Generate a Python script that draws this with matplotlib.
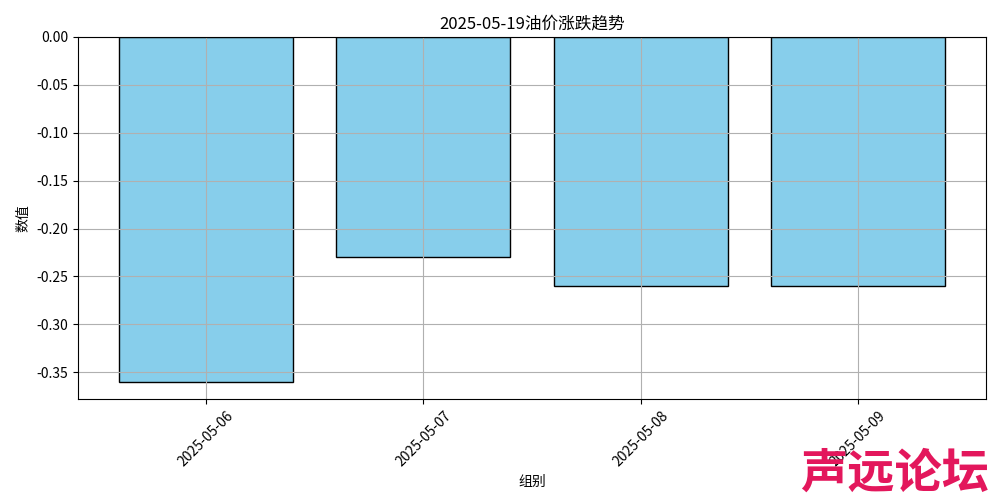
import matplotlib
matplotlib.use("Agg")
import matplotlib.pyplot as plt

plt.rcParams['font.family'] = ['Noto Sans CJK SC', 'DejaVu Sans']
plt.rcParams['axes.unicode_minus'] = False

categories = ["2025-05-06", "2025-05-07", "2025-05-08", "2025-05-09"]
values = [-0.36, -0.23, -0.26, -0.26]
title = "2025-05-19油价涨跌趋势"
xlabel = "组别"
ylabel = "数值"

fig, ax = plt.subplots(figsize=(10, 5), dpi=100)
ax.bar(categories, values, color="skyblue", edgecolor="black", width=0.8)
ax.set_title(title)
ax.set_xlabel(xlabel)
ax.set_ylabel(ylabel)
ax.grid(True)
plt.xticks(rotation=45)
fig.subplots_adjust(left=0.078, right=0.986, top=0.926, bottom=0.202)
fig.text(0.895, 0.052, "声远论坛", color="#E3175C", fontsize=34, fontweight="bold",
         style="italic", ha="center", va="center")
fig.savefig("out.png")
